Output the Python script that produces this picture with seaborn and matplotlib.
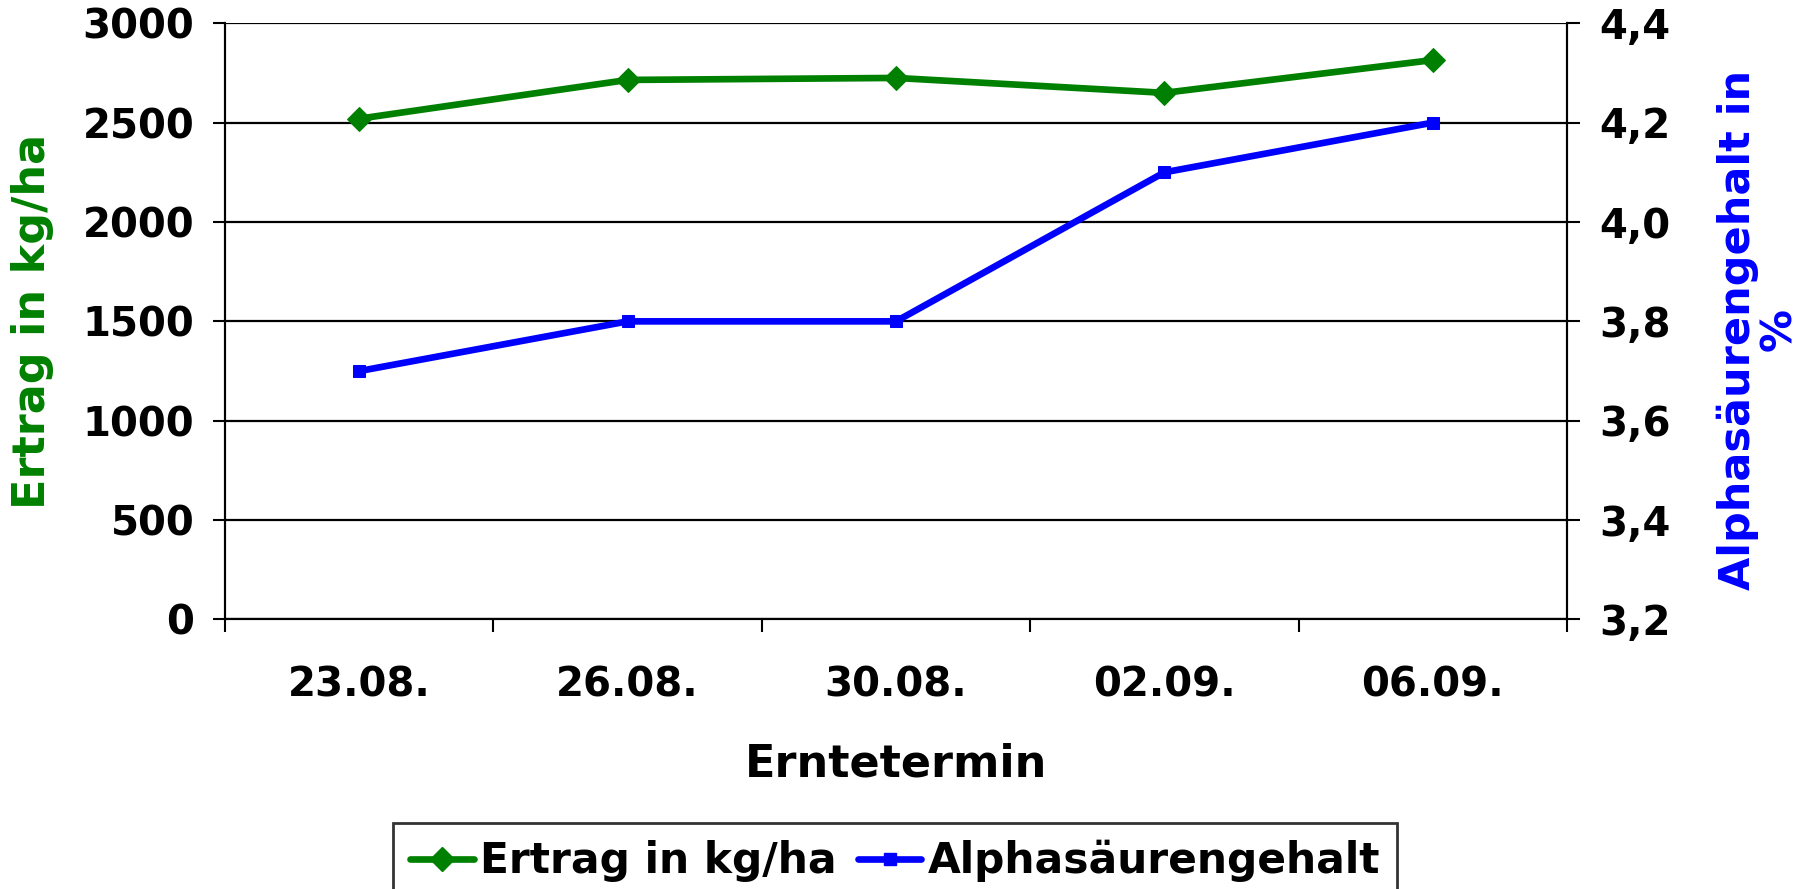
import numpy as np
import pandas as pd
import seaborn as sns
import matplotlib
matplotlib.use("Agg")
import matplotlib.pyplot as plt
from matplotlib.lines import Line2D

# data
termine = ["23.08.", "26.08.", "30.08.", "02.09.", "06.09."]
ertrag = [2520, 2715, 2725, 2650, 2815]          # kg/ha
alpha = [3.7, 3.8, 3.8, 4.1, 4.2]                 # %
ertrag_ticks = [0, 500, 1000, 1500, 2000, 2500, 3000]
alpha_ticks = [3.2, 3.4, 3.6, 3.8, 4.0, 4.2, 4.4]

GREEN = "#008000"
BLUE = "#0000FF"
TICK_FS = 29
LABEL_FS = 32
LEG_FS = 30.5
LW = 4.8

sns.set_theme(style="white")
plt.rcParams["font.family"] = ["DejaVu Sans"]
plt.rcParams["font.weight"] = "bold"
for key in ("text.color", "axes.labelcolor", "xtick.color", "ytick.color", "axes.edgecolor"):
    plt.rcParams[key] = "black"

df = pd.DataFrame({"termin": termine, "ertrag": ertrag, "alpha": alpha})
df["pos"] = np.arange(len(df))

fig = plt.figure(figsize=(18.09, 8.89), dpi=100)
ax = fig.add_axes([0.1244, 0.3032, 0.7418, 0.6706])
ax2 = ax.twinx()

sns.lineplot(data=df, x="pos", y="ertrag", ax=ax, color=GREEN, linewidth=LW,
             marker="D", markersize=12, markeredgecolor=GREEN, zorder=5)
sns.lineplot(data=df, x="pos", y="alpha", ax=ax2, color=BLUE, linewidth=LW,
             marker="s", markersize=8.5, markeredgecolor=BLUE, zorder=5)

# left axis
ax.set_ylim(0, 3000)
ax.set_yticks(ertrag_ticks)
ax.set_yticklabels([str(t) for t in ertrag_ticks], fontsize=TICK_FS, fontweight="bold")
ax.grid(axis="y", color="black", linewidth=1.6)
ax.set_axisbelow(True)
ax.tick_params(axis="y", direction="out", length=9, width=1.5, pad=13, left=True)

# right axis
ax2.set_ylim(3.2, 4.4)
ax2.set_yticks(alpha_ticks)
ax2.set_yticklabels([f"{t:.1f}".replace(".", ",") for t in alpha_ticks],
                    fontsize=TICK_FS, fontweight="bold")
ax2.tick_params(axis="y", direction="out", length=9, width=1.5, pad=14, right=True)
ax2.grid(False)

# x axis: labels centred on categories, tick marks between them
ax.set_xlim(-0.5, len(termine) - 0.5)
ax.set_xticks(df["pos"])
ax.set_xticklabels(termine, fontsize=TICK_FS, fontweight="bold")
ax.set_xticks(np.arange(-0.5, len(termine), 1), minor=True)
ax.tick_params(axis="x", which="major", length=0, pad=33)
ax.tick_params(axis="x", which="minor", direction="out", length=9, width=1.5, bottom=True)
ax.set_xlabel("Erntetermin", fontsize=LABEL_FS, fontweight="bold", labelpad=27)
ax.set_ylabel("")
ax2.set_ylabel("")

for a in (ax, ax2):
    for sp in a.spines.values():
        sp.set_color("black")
        sp.set_linewidth(1.5)
    a.spines["top"].set_visible(False)

fig.text(0.0178, 0.638, "Ertrag in kg/ha", rotation=90, ha="center", va="center",
         color=GREEN, fontsize=LABEL_FS, fontweight="bold")
fig.text(0.972, 0.629, "Alphasäurengehalt in\n%", rotation=90, ha="center", va="center",
         multialignment="center", color=BLUE, fontsize=31, fontweight="bold",
         linespacing=0.95)

handles = [
    Line2D([], [], color=GREEN, linewidth=LW, marker="D", markersize=12),
    Line2D([], [], color=BLUE, linewidth=LW, marker="s", markersize=8.5),
]
leg = fig.legend(handles, ["Ertrag in kg/ha", "Alphasäurengehalt"], loc="upper center",
                 bbox_to_anchor=(0.4948, 0.0742), ncol=2,
                 prop={"weight": "bold", "size": LEG_FS}, frameon=True, fancybox=False,
                 handlelength=1.5, handletextpad=0.15, columnspacing=0.5,
                 borderpad=0.4, borderaxespad=0)
leg.get_frame().set_edgecolor("black")
leg.get_frame().set_linewidth(2)

fig.savefig("out.png", dpi=100)
